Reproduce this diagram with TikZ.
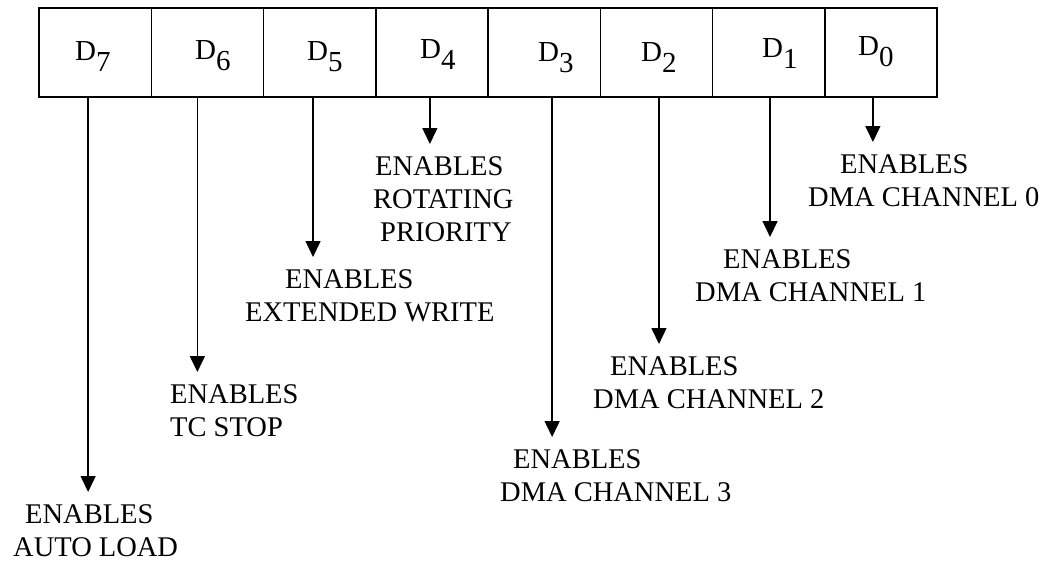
\documentclass[tikz,border=0pt]{standalone}
\usepackage{fontspec}
\setmainfont{Liberation Serif}
\usetikzlibrary{arrows.meta, positioning}

\begin{document}
\begin{tikzpicture}[x=1pt, y=-1pt,
        cell/.style={draw, line width=1.5pt, minimum width=112.25pt,
                     minimum height=89pt, inner sep=0pt, outer sep=0pt},
        bit/.style={anchor=base west, inner sep=0pt,
                    font=\fontsize{29}{33}\selectfont},
        info/.style={anchor=north west, align=left, inner sep=0pt,
                     font=\fontsize{28.5}{33}\selectfont},
        arr/.style={-{Triangle[width=15pt,length=16pt]}, line width=1.5pt,
                    shorten >=12pt}
    ]
        \useasboundingbox (0,0) rectangle (1045,563);
        % register cells, D7 on the left
        \node[cell] (c7) at (95.125,52.5) {};
        \foreach \i/\j in {6/7,5/6,4/5,3/4,2/3,1/2,0/1}
            \node[cell, right=0pt of c\j] (c\i) {};
        \node[bit] (b7) at (75,60) {D\raisebox{-11pt}{7}};
        \node[bit] (b6) at (195,59) {D\raisebox{-11pt}{6}};
        \node[bit] (b5) at (307,60) {D\raisebox{-11pt}{5}};
        \node[bit] (b4) at (420,58) {D\raisebox{-11pt}{4}};
        \node[bit] (b3) at (538,61) {D\raisebox{-11pt}{3}};
        \node[bit] (b2) at (641,61) {D\raisebox{-11pt}{2}};
        \node[bit] (b1) at (762,57) {D\raisebox{-11pt}{1}};
        \node[bit] (b0) at (858,55) {D\raisebox{-11pt}{0}};
        % what each bit does
        \node[info] (l7) at (13,504) {\hspace*{12pt}ENABLES\\AUTO LOAD};
        \node[info] (l6) at (170,384) {ENABLES\\TC STOP};
        \node[info] (l5) at (245,269) {\hspace*{40pt}ENABLES\\EXTENDED WRITE};
        \node[info] (l4) at (373,156) {\hspace*{2pt}ENABLES\\ROTATING\\\hspace*{7pt}PRIORITY};
        \node[info] (l3) at (500,449) {\hspace*{13pt}ENABLES\\DMA CHANNEL 3};
        \node[info] (l2) at (593,356) {\hspace*{17pt}ENABLES\\DMA CHANNEL 2};
        \node[info] (l1) at (695,249) {\hspace*{28pt}ENABLES\\DMA CHANNEL 1};
        \node[info] (l0) at (808,154) {\hspace*{32pt}ENABLES\\DMA CHANNEL 0};
        \draw[arr] ([xshift=-7pt]c7.south) -- ([xshift=-7pt]c7.south |- l7.north);
        \draw[arr] ([xshift=-10pt]c6.south) -- ([xshift=-10pt]c6.south |- l6.north);
        \draw[arr] ([xshift=-6.6pt]c5.south) -- ([xshift=-6.6pt]c5.south |- l5.north);
        \draw[arr] ([xshift=-2pt]c4.south) -- ([xshift=-2pt]c4.south |- l4.north);
        \draw[arr] ([xshift=8pt]c3.south) -- ([xshift=8pt]c3.south |- l3.north);
        \draw[arr] ([xshift=2.6pt]c2.south) -- ([xshift=2.6pt]c2.south |- l2.north);
        \draw[arr] ([xshift=1.4pt]c1.south) -- ([xshift=1.4pt]c1.south |- l1.north);
        \draw[arr] ([xshift=-8pt]c0.south) -- ([xshift=-8pt]c0.south |- l0.north);
    \end{tikzpicture}
\end{document}
